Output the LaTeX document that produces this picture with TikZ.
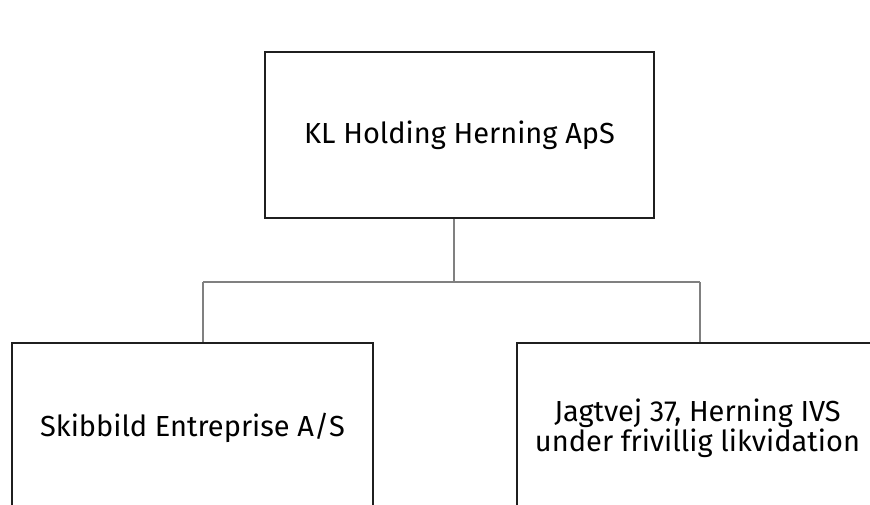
\documentclass[tikz,border=0pt]{standalone}
\usepackage{fontspec}
\setmainfont{Fira Sans}
\usetikzlibrary{positioning}

\tikzset{
    company/.style={draw=black!88, line width=1.8pt, align=center,
        font=\fontsize{29}{27}\selectfont, inner sep=0pt},
    link/.style={draw=black!50, line width=1.6pt}
}

\begin{document}
\begin{tikzpicture}[x=1pt, y=-1pt]

        % Canvas
        \useasboundingbox (0,0) rectangle (870,504);

        % Parent company
        \node[company, minimum width=389pt, minimum height=166pt] (holding) at (459.5,135) {KL Holding Herning ApS};

        % Subsidiaries
        \node[company, minimum width=361pt, minimum height=170pt] (skibbild) at (192.5,428) {Skibbild Entreprise A/S};
        \node[company, minimum width=361pt, minimum height=170pt] (jagtvej) at (697.5,428) {Jagtvej 37, Herning IVS\\under frivillig likvidation};

        % Ownership lines
        \coordinate (split) at (454,282);
        \coordinate (dropL) at (203,282);
        \coordinate (dropR) at (700,282);
        \draw[link] (holding.south -| split) -- (split);
        \draw[link] (dropL) -- (dropR);
        \draw[link] (dropL) -- (dropL |- skibbild.north);
        \draw[link] (dropR) -- (dropR |- jagtvej.north);

    \end{tikzpicture}
\end{document}
